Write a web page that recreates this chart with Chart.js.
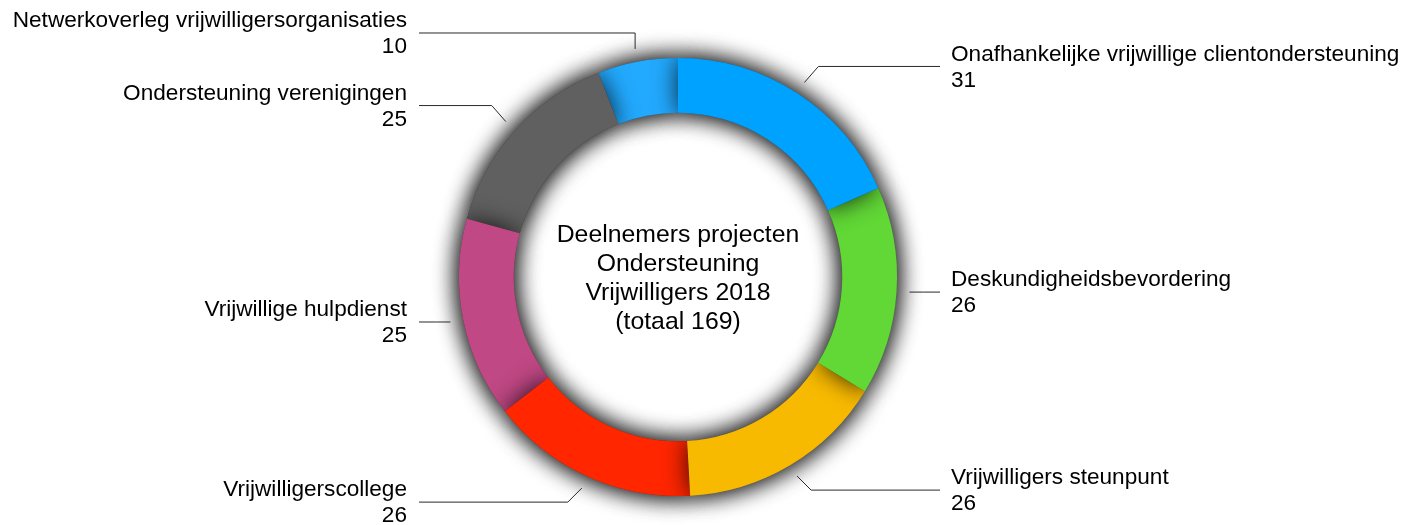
<!DOCTYPE html>
<html>
<head>
<meta charset="utf-8">
<script src="https://cdn.jsdelivr.net/npm/chart.js@4.4.1/dist/chart.umd.min.js"></script>
<style>
  html, body { margin: 0; padding: 0; background: #fff; }
  #wrap { width: 1407px; height: 525px; }
</style>
</head>
<body>
<div id="wrap"><canvas id="donut" width="1407" height="525"></canvas></div>
<script>
// data
var categories = [
  "Onafhankelijke vrijwillige clientondersteuning",
  "Deskundigheidsbevordering",
  "Vrijwilligers steunpunt",
  "Vrijwilligerscollege",
  "Vrijwillige hulpdienst",
  "Ondersteuning verenigingen",
  "Netwerkoverleg vrijwilligersorganisaties"
];
var values = [31, 26, 26, 26, 25, 25, 10];
var colors = ["#00A2FF", "#61D836", "#F8BA00", "#FF2600", "#C04884", "#606060", "#22AAFF"];
var centerTitle = ["Deelnemers projecten", "Ondersteuning", "Vrijwilligers 2018", "(totaal 169)"];

var FONT = '"Liberation Sans", Arial, Helvetica, sans-serif';

// draw arcs back to front with a soft shadow (two passes = darker shadow)
var shadowPlugin = {
  id: 'ringShadow',
  beforeDatasetDraw: function(chart, args) {
    var ctx = chart.ctx;
    var arcs = args.meta.data;
    ctx.save();
    ctx.shadowColor = 'rgba(0,0,0,0.8)';
    ctx.shadowBlur = 24;
    ctx.shadowOffsetX = 0;
    ctx.shadowOffsetY = 0;
    for (var pass = 0; pass < 2; pass++) {
      for (var i = arcs.length - 1; i >= 0; i--) {
        arcs[i].draw(ctx, chart.chartArea);
      }
    }
    ctx.restore();
    return false;
  }
};

// leader lines + labels
var labelPlugin = {
  id: 'leaderLabels',
  afterDraw: function(chart) {
    var ctx = chart.ctx;
    var arcs = chart.getDatasetMeta(0).data;
    ctx.save();
    for (var i = 0; i < arcs.length; i++) {
      var a = arcs[i].getProps(['x', 'y', 'startAngle', 'endAngle', 'outerRadius'], true);
      var mid = (a.startAngle + a.endAngle) / 2;
      var cos = Math.cos(mid), sin = Math.sin(mid);
      var right = cos >= 0;
      var sx = a.x + cos * (a.outerRadius + 13);
      var sy = a.y + sin * (a.outerRadius + 13);
      var ex = sx + (Math.abs(cos) > 0.3 ? (right ? 14 : -14) : 0);
      var ey = sy + (Math.abs(sin) > 0.3 ? (sin > 0 ? 14 : -16) : 0);
      var lx = right ? a.x + 262 : a.x - 259;

      ctx.beginPath();
      ctx.strokeStyle = '#2a2a2a';
      ctx.lineWidth = 1;
      ctx.moveTo(sx, sy);
      ctx.lineTo(ex, ey);
      ctx.lineTo(lx, ey);
      ctx.stroke();

      ctx.fillStyle = '#000';
      ctx.font = '22.6px ' + FONT;
      ctx.textBaseline = 'middle';
      ctx.textAlign = right ? 'left' : 'right';
      var tx = right ? a.x + 273 : a.x - 271;
      ctx.fillText(categories[i], tx, ey - 12);
      ctx.fillText(String(values[i]), tx, ey + 14);
    }

    // centre title
    var c = arcs[0];
    ctx.font = '24.8px ' + FONT;
    ctx.fillStyle = '#000';
    ctx.textAlign = 'center';
    ctx.textBaseline = 'middle';
    for (var k = 0; k < centerTitle.length; k++) {
      ctx.fillText(centerTitle[k], c.x, c.y - 42 + k * 29);
    }
    ctx.restore();
  }
};

new Chart(document.getElementById('donut'), {
  type: 'doughnut',
  data: {
    labels: categories,
    datasets: [{
      data: values,
      backgroundColor: colors,
      borderWidth: 0,
      hoverOffset: 0,
      offset: 0
    }]
  },
  options: {
    responsive: false,
    animation: false,
    cutout: '75%',
    layout: { padding: { top: 58, bottom: 29, left: 459, right: 510 } },
    plugins: {
      legend: { display: false },
      tooltip: { enabled: false },
      title: { display: false }
    }
  },
  plugins: [shadowPlugin, labelPlugin]
});
</script>
</body>
</html>
